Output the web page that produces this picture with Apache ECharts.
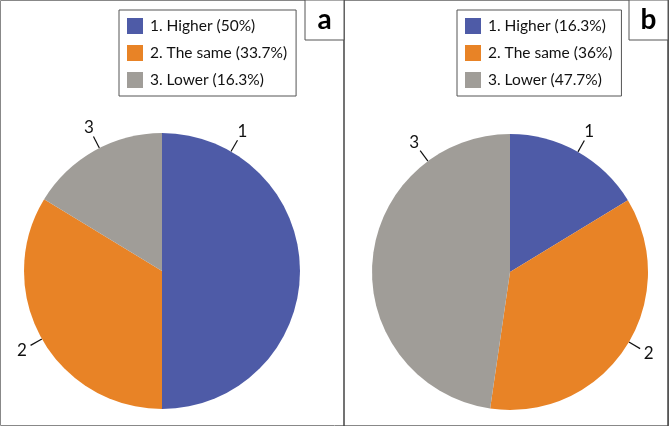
<!DOCTYPE html>
<html>
<head>
<meta charset="utf-8">
<script src="https://cdn.jsdelivr.net/npm/echarts@6/dist/echarts.min.js"></script>
<style>html,body{margin:0;padding:0;background:#fff}#c{width:670px;height:427px}</style>
</head>
<body>
<div id="c"></div>
<script>
const categories = ['Higher', 'The same', 'Lower'];
const valuesA = [50, 33.7, 16.3];
const valuesB = [16.3, 36, 47.7];
const panelLetters = ['a', 'b'];
const colors = ['#4E5BA7', '#E88326', '#A09D98'];
// angle (deg, clockwise from top) at which each slice label sits, per pie
const labelAngles = [[30, 240.5, 333], [29.5, 120.5, 323.5]];
const pieCenters = [[162, 271], [510, 272]];
const pieRadius = 138;

const chart = echarts.init(document.getElementById('c'), null, {renderer: 'canvas'});
const font = 'Lato, "Noto Sans", sans-serif';

function names(vals) {
  return vals.map((v, i) => (i + 1) + '. ' + categories[i] + ' (' + v + '%)');
}
function buildData(vals) {
  const n = names(vals);
  return vals.map((v, i) => ({name: n[i], value: v, itemStyle: {color: colors[i]}}));
}
function pt(c, ang, r) {
  const a = ang * Math.PI / 180;
  return [c[0] + r * Math.sin(a), c[1] - r * Math.cos(a)];
}
function makeSeries(vals, si) {
  return {
    type: 'pie',
    center: pieCenters[si],
    radius: pieRadius,
    startAngle: 90,
    clockwise: true,
    silent: true,
    animation: false,
    data: buildData(vals),
    itemStyle: {borderWidth: 0},
    emphasis: {disabled: true},
    label: {
      show: true,
      position: 'outside',
      formatter: p => String(p.dataIndex + 1),
      color: '#111',
      fontSize: 17,
      fontFamily: font
    },
    labelLine: {show: true, length: 10, length2: 0, lineStyle: {color: '#111', width: 1.2}},
    labelLayout: function (params) {
      const ang = labelAngles[si][params.dataIndex];
      const c = pieCenters[si];
      const p1 = pt(c, ang, pieRadius);
      const p2 = pt(c, ang, pieRadius + 13);
      const pl = pt(c, ang, pieRadius + 23);
      return {x: pl[0], y: pl[1], align: 'center', verticalAlign: 'middle', labelLinePoints: [p1, p2, p2]};
    }
  };
}
function makeLegend(vals, left) {
  return {
    data: names(vals),
    orient: 'vertical',
    left: left,
    top: 10,
    itemWidth: 16,
    itemHeight: 16,
    itemGap: 11,
    padding: [8, 9, 8, 8],
    borderColor: '#555',
    borderWidth: 1,
    selectedMode: false,
    icon: 'rect',
    textStyle: {fontSize: 15.5, fontFamily: font, color: '#111', padding: [0, 0, 0, 2]}
  };
}

const option = {
  animation: false,
  legend: [makeLegend(valuesA, 119), makeLegend(valuesB, 457)],
  series: [makeSeries(valuesA, 0), makeSeries(valuesB, 1)],
  graphic: [
    {type: 'rect', shape: {x: 0.5, y: 0.5, width: 668, height: 425}, style: {fill: null, stroke: '#888', lineWidth: 1}},
    {type: 'line', shape: {x1: 668, y1: 0, x2: 668, y2: 426}, style: {stroke: '#444', lineWidth: 1.5}},
    {type: 'line', shape: {x1: 344, y1: 0, x2: 344, y2: 426}, style: {stroke: '#444', lineWidth: 1.5}},
    {type: 'rect', shape: {x: 305, y: 0, width: 39, height: 40}, style: {fill: '#fff', stroke: '#555', lineWidth: 1}},
    {type: 'rect', shape: {x: 629, y: 0, width: 39, height: 40}, style: {fill: '#fff', stroke: '#555', lineWidth: 1}},
    {type: 'text', x: 324.5, y: 20, style: {text: panelLetters[0], font: 'bold 28px ' + font, fill: '#000', align: 'center', verticalAlign: 'middle'}},
    {type: 'text', x: 648.5, y: 20, style: {text: panelLetters[1], font: 'bold 28px ' + font, fill: '#000', align: 'center', verticalAlign: 'middle'}}
  ]
};
chart.setOption(option);
</script>
</body>
</html>
